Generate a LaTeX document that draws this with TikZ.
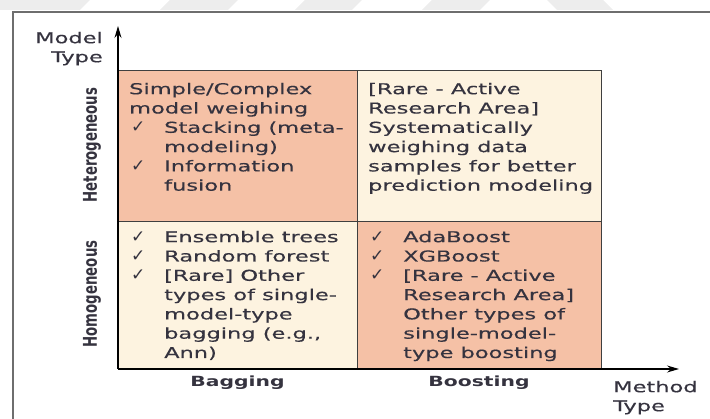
\documentclass[tikz,border=0pt]{standalone}
\usepackage{fontspec}
\setmainfont{DejaVu Sans}
\newfontfamily\bodyfont[FakeStretch=1.5,FakeBold=0.3]{DejaVu Sans}
\newfontfamily\headfont[FakeStretch=1.45]{DejaVu Sans}
\newfontfamily\sidefont[FakeStretch=0.7]{DejaVu Sans}
\newfontfamily\checkfont{DejaVu Sans}
\usetikzlibrary{arrows.meta}

\definecolor{salmon}{HTML}{F5C1A6}
\definecolor{cream}{HTML}{FDF3E0}
\definecolor{ink}{HTML}{35333F}
\definecolor{gridline}{HTML}{3F3F3F}
\definecolor{framegray}{HTML}{6E6E6E}
\definecolor{haze}{HTML}{EDEDED}

% check mark bullet and the matching hanging indent
\newcommand\chk{\makebox[35pt][l]{\hspace*{2pt}{\checkfont\fontsize{17}{17}\selectfont ✓}}}
\newcommand\ind{\hspace*{35pt}}

\tikzset{
  cell/.style={draw=gridline, line width=1.3pt, anchor=north west, inner sep=0pt},
  celltext/.style={anchor=north west, inner sep=0pt, align=left, text=ink,
    font=\bodyfont\fontsize{15}{19.3}\selectfont},
  axistitle/.style={inner sep=0pt, text=ink, font=\bodyfont\fontsize{15}{19}\selectfont},
  colhead/.style={anchor=base, inner sep=0pt, text=ink, font=\headfont\bfseries\fontsize{14}{16}\selectfont},
  rowhead/.style={rotate=90, inner sep=0pt, text=ink, font=\sidefont\bfseries\fontsize{19}{20}\selectfont},
  axis/.style={line width=1.2pt, black, -{Stealth[length=12pt,width=7pt,inset=4pt]}},
  frame/.style={draw=framegray, line width=1.5pt},
}

\begin{document}
\begin{tikzpicture}[x=1pt,y=-1pt]
\useasboundingbox (0,0) rectangle (710,419);

% faint banding along the top edge
\fill[haze] (0,0) -- (90,0) -- (80,10) -- (0,10) -- cycle;
\fill[haze] (170,0) -- (238,0) -- (228,10) -- (160,10) -- cycle;
\fill[haze] (305,0) -- (362,0) -- (352,10) -- (295,10) -- cycle;
\fill[haze] (432,0) -- (490,0) -- (480,10) -- (422,10) -- cycle;
\fill[haze] (547,0) -- (603,0) -- (613,10) -- (557,10) -- cycle;

% outer frame
\draw[frame] (13,419) -- (13,12) -- (710,12);

% the four quadrants
\node[cell, fill=salmon, minimum width=239pt, minimum height=151pt] (hetbag) at (118,70) {};
\node[cell, fill=cream,  minimum width=244pt, minimum height=151pt] (hetboost) at (357,70) {};
\node[cell, fill=cream,  minimum width=239pt, minimum height=148pt] (hombag) at (118,221) {};
\node[cell, fill=salmon, minimum width=244pt, minimum height=148pt] (homboost) at (357,221) {};

% axes
\coordinate (origin) at (118,369);
\coordinate (ytip) at (118,26);
\coordinate (xtip) at (679,369);
\draw[axis] (origin) -- (ytip);
\draw[axis] (origin) -- (xtip);

% quadrant contents
\node[celltext] (t-hetbag) at (129,82.6) {Simple/Complex\\
  model weighing\\
  \chk Stacking (meta-\\
  \ind modeling)\\
  \chk Information\\
  \ind fusion};
\node[celltext] (t-hetboost) at (368,82.6) {[Rare - Active\\
  Research Area]\\
  Systematically\\
  weighing data\\
  samples for better\\
  prediction modeling};
\node[celltext] (t-hombag) at (129,230.6) {\chk Ensemble trees\\
  \chk Random forest\\
  \chk [Rare] Other\\
  \ind types of single-\\
  \ind model-type\\
  \ind bagging (e.g.,\\
  \ind Ann)};
\node[celltext] (t-homboost) at (368,230.6) {\chk AdaBoost\\
  \chk XGBoost\\
  \chk [Rare - Active\\
  \ind Research Area]\\
  \ind Other types of\\
  \ind single-model-\\
  \ind type boosting};

% axis titles and headings
\node[axistitle, anchor=north east, align=right] (ytitle) at (103,31.6) {Model\\Type};
\node[axistitle, anchor=north west, align=left] (xtitle) at (613,380.6) {Method\\Type};
\node[colhead] (bagging) at (237.5,387) {Bagging};
\node[colhead] (boosting) at (479,387) {Boosting};
\node[rowhead] (hetero) at (92,145) {Heterogeneous};
\node[rowhead] (homo) at (92,294) {Homogeneous};
\end{tikzpicture}
\end{document}
